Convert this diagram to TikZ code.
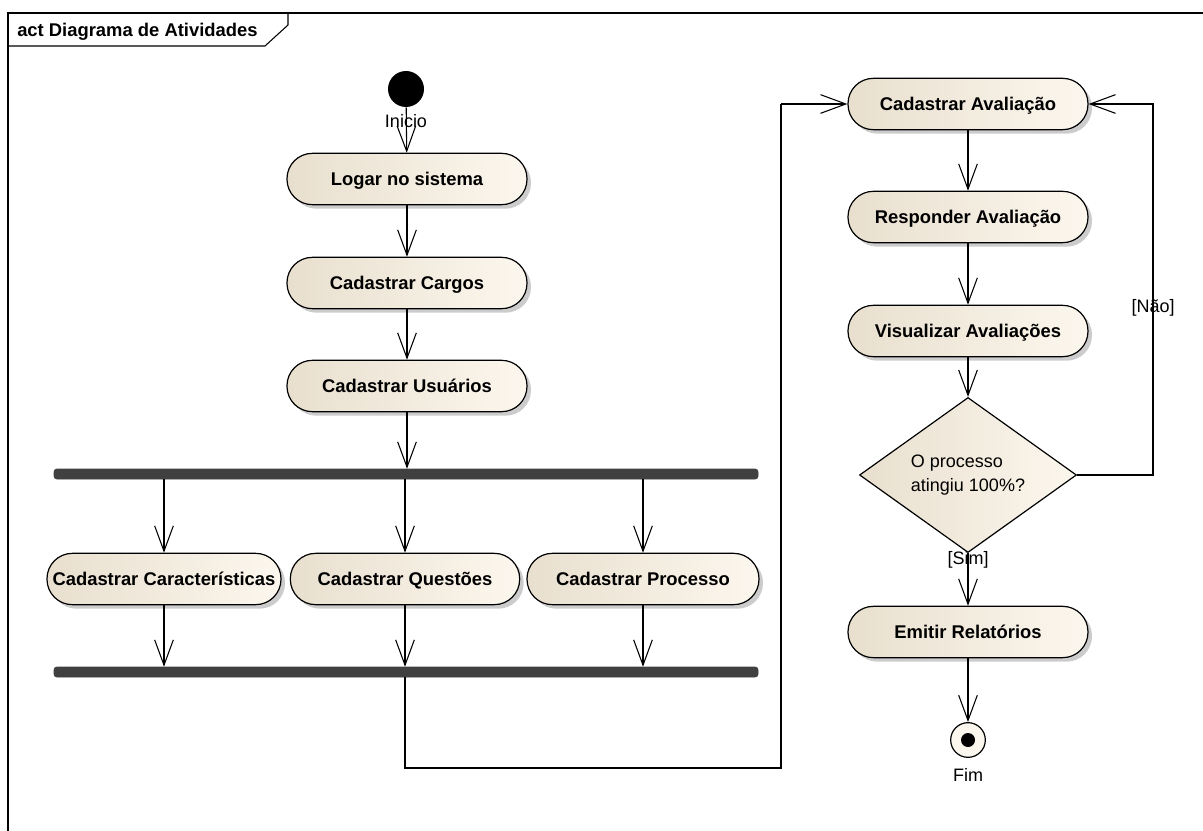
\documentclass[tikz,border=0pt]{standalone}
\usepackage{fontspec}
\setmainfont{Liberation Sans}
\usetikzlibrary{arrows.meta,shapes.geometric,shadows}
\definecolor{beigeL}{RGB}{232,223,206}
\definecolor{beigeR}{RGB}{252,247,238}
\definecolor{barcol}{RGB}{64,64,64}
\tikzset{
  act/.style={draw=black, line width=0.9pt, rounded corners=19pt,
    minimum height=38.5pt, minimum width=180pt, inner sep=0pt,
    text height=9.9pt, text depth=0pt,
    left color=beigeL, right color=beigeR,
    font=\bfseries\fontsize{13.8}{16}\selectfont,
    drop shadow={shadow xshift=3pt, shadow yshift=-3pt, fill=black!40, opacity=0.5}},
  bar/.style={draw=barcol, fill=barcol, rounded corners=2pt, minimum width=528pt,
    minimum height=7.5pt, inner sep=0pt},
  arr/.style={draw=black, line width=0.8pt, -{Straight Barb[length=19pt,width=14pt,line width=0.8pt]}},
  ln/.style={draw=black, line width=0.8pt},
  lbl/.style={font=\fontsize{13.5}{16}\selectfont, inner sep=1pt},
}
\begin{document}
\begin{tikzpicture}[x=0.75pt,y=-0.75pt]
\useasboundingbox (0,0) rectangle (1203,831);
% frame
\draw[line width=1pt] (8,831) -- (8,13) -- (1203,13);
\draw[line width=0.8pt] (8,46) -- (265,46) -- (288,25) -- (288,13);
\node[anchor=west, font=\bfseries\fontsize{13.8}{16}\selectfont, inner sep=0pt] (title) at (17,32) {act Diagrama de Atividades};

% initial
\node[circle, fill=black, minimum size=27pt, inner sep=0pt] (ini) at (406,89) {};
\node[lbl] (inilbl) at (406,121) {Inicio};

% left column
\node[act] (log) at (407,179) {Logar no sistema};
\node[act] (car) at (407,283) {Cadastrar Cargos};
\node[act] (usu) at (407,386) {Cadastrar Usuários};
\node[bar] (fork) at (406,474) {};
\node[act, minimum width=175.5pt] (cpr) at (164,579) {Cadastrar Características};
\node[act, minimum width=172pt] (que) at (405,579) {Cadastrar Questões};
\node[act, minimum width=174pt] (pro) at (643,579) {Cadastrar Processo};
\node[bar] (join) at (406,672) {};

\draw[arr] (ini) -- (log);
\draw[arr] (log) -- (car);
\draw[arr] (car) -- (usu);
\draw[arr] (usu.south) -- (usu.south |- fork.north);
\draw[arr] (cpr.north |- fork.south) -- (cpr.north);
\draw[arr] (que.north |- fork.south) -- (que.north);
\draw[arr] (pro.north |- fork.south) -- (pro.north);
\draw[arr] (cpr.south) -- (cpr.south |- join.north);
\draw[arr] (que.south) -- (que.south |- join.north);
\draw[arr] (pro.south) -- (pro.south |- join.north);

% right column
\node[act] (cav) at (968,104) {Cadastrar Avaliação};
\node[act] (rav) at (968,217) {Responder Avaliação};
\node[act] (vav) at (968,331) {Visualizar Avaliações};
\node[diamond, draw=black, line width=0.9pt, minimum width=162.75pt, minimum height=85.5pt,
  inner sep=0pt, left color=beigeL, right color=beigeR, align=left,
  font=\fontsize{13.5}{18.5}\selectfont] (dec) at (968,475) {O processo\\atingiu 100\%?};
\node[act] (emi) at (968,632) {Emitir Relatórios};
\node[circle, draw=black, line width=0.9pt, fill=beigeR, minimum size=26pt, inner sep=0pt] (fim) at (968,740) {};
\node[circle, fill=black, minimum size=10.5pt, inner sep=0pt] (fimdot) at (fim.center) {};
\node[lbl] (fimlbl) at (968,775) {Fim};

\coordinate (j1) at (405,768);
\coordinate (j2) at (781,768);
\coordinate (j3) at (781,104);
\draw[ln] (que.south |- join.south) -- (j1) -- (j2) -- (j3);
\draw[arr] (j3) -- (cav.west);

\draw[arr] (cav) -- (rav);
\draw[arr] (rav) -- (vav);
\draw[arr] (vav) -- (dec);
\draw[arr] (dec) -- (emi);
\draw[arr] (emi) -- (fim);

\coordinate (lp) at (1153,300);
\draw[ln] (dec.east) -| (lp);
\draw[arr] (lp) |- (cav.east);
\node[lbl] (nao) at (1153,308) {[Não]};
\node[lbl] (sim) at (968,560) {[Sim]};
\end{tikzpicture}
\end{document}
